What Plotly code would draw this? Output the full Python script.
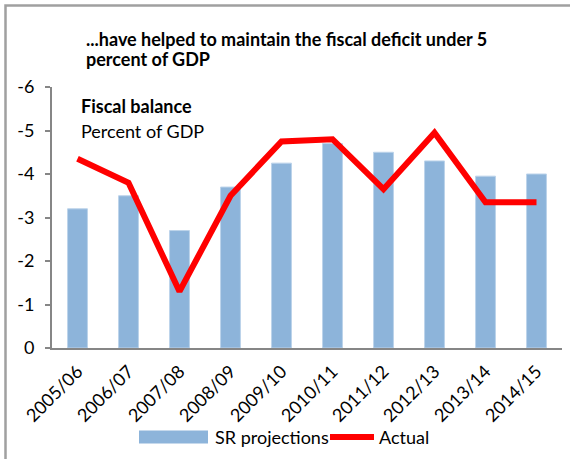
import plotly.graph_objects as go

# Fiscal years on the category axis
years = ["2005/06", "2006/07", "2007/08", "2008/09", "2009/10",
         "2010/11", "2011/12", "2012/13", "2013/14", "2014/15"]

# Fiscal balance, percent of GDP
sr_projections = [-3.2, -3.5, -2.7, -3.7, -4.25, -4.7, -4.5, -4.3, -3.95, -4.0]
actual = [-4.35, -3.8, -1.3, -3.5, -4.75, -4.8, -3.65, -4.95, -3.35, -3.35]

# Value axis ticks, written with a plain hyphen
y_tickvals = [0, -1, -2, -3, -4, -5, -6]
y_ticktext = ["0", "-1", "-2", "-3", "-4", "-5", "-6"]

series_names = ["SR projections", "Actual"]

FONT = "Lato"
BAR_COLOR = "#8DB4DA"
BAR_EDGE = "#BCD3EA"
LINE_COLOR = "#FF0000"

fig = go.Figure()
fig.add_trace(go.Bar(
    x=years, y=sr_projections, name=series_names[0],
    marker=dict(color=BAR_COLOR, line=dict(color=BAR_EDGE, width=1)),
))
fig.add_trace(go.Scatter(
    x=years, y=actual, name=series_names[1], mode="lines",
    line=dict(color=LINE_COLOR, width=6),
))

L, R, T, B = 52, 8, 87, 111
W, H = 570, 459
pw, ph = W - L - R, H - T - B


def px_x(px):
    return (px - L) / pw


def px_y(py):
    return (H - B - py) / ph


def label(text, x, y, size=18, anchor="left"):
    return dict(text=text, xref="paper", yref="paper", x=px_x(x), y=px_y(y),
                xanchor=anchor, yanchor="middle", showarrow=False,
                font=dict(size=size, family=FONT, color="#000000"))


# Legend drawn as a key row under the axis
legend_y = 437
shapes = [
    dict(type="rect", xref="paper", yref="paper",
         x0=px_x(5.5), x1=px_x(580), y0=px_y(470), y1=px_y(5.5),
         line=dict(color="#A0A0A0", width=2.5), layer="below"),
    dict(type="rect", xref="paper", yref="paper",
         x0=px_x(139), x1=px_x(208), y0=px_y(legend_y + 6.5), y1=px_y(legend_y - 6.5),
         fillcolor=BAR_COLOR, line=dict(width=0)),
    dict(type="line", xref="paper", yref="paper",
         x0=px_x(330), x1=px_x(374), y0=px_y(legend_y), y1=px_y(legend_y),
         line=dict(color=LINE_COLOR, width=6)),
]

fig.update_layout(
    width=W, height=H,
    margin=dict(l=L, r=R, t=T, b=B, pad=0),
    paper_bgcolor="white", plot_bgcolor="white",
    font=dict(family=FONT, color="#000000"),
    bargap=0.61,
    showlegend=False,
    xaxis=dict(
        type="category", showgrid=False, showline=True,
        linecolor="#868686", linewidth=2, ticks="",
        tickangle=-45, tickfont=dict(size=18, family=FONT),
        ticklabelstandoff=4,
    ),
    yaxis=dict(
        range=[0, -6], tickvals=y_tickvals, ticktext=y_ticktext,
        showgrid=False, zeroline=False, showline=True,
        linecolor="#868686", linewidth=2,
        ticks="outside", ticklen=5, tickcolor="#868686", tickwidth=1.5,
        tickfont=dict(size=18, family=FONT),
        ticklabelstandoff=7,
    ),
    shapes=shapes,
    annotations=[
        label("<b>...have helped to maintain the fiscal deficit under 5</b>", 84, 39, 18),
        label("<b>percent of GDP</b>", 84, 59, 18),
        label("<b>Fiscal balance</b>", 79, 106),
        label("Percent of GDP", 79, 131),
        label(series_names[0], 213, legend_y),
        label(series_names[1], 377, legend_y),
    ],
)

fig.write_html("out.html")
